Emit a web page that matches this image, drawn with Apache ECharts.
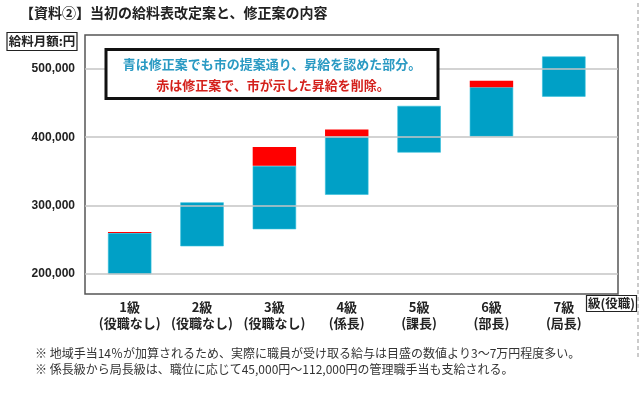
<!DOCTYPE html>
<html><head><meta charset="utf-8">
<script src="https://cdn.jsdelivr.net/npm/echarts@6/dist/echarts.min.js"></script>
<style>html,body{margin:0;padding:0;background:#fff}#c{width:640px;height:393px}</style>
</head><body><div id="c"></div>
<script>
const categories = ['1級','2級','3級','4級','5級','6級','7級'];
const roles = ['(役職なし)','(役職なし)','(役職なし)','(係長)','(課長)','(部長)','(局長)'];
// bottom of each bar (current start of grade)
const startValues = [199000, 240000, 265000, 315500, 377500, 401000, 459500];
// top of blue part (raise approved in revised plan)
const revisedTop = [259500, 304500, 358000, 401000, 446000, 473500, 518500];
// top of red part (city's original proposal)
const originalTop = [261000, 304500, 385500, 411500, 446000, 483000, 518500];
const yTicks = [200000, 300000, 400000, 500000];
const yMin = 170000, yMax = 550000;

const blueVals = revisedTop.map((v,i)=>v-startValues[i]);
const redVals = originalTop.map((v,i)=>v-revisedTop[i]);
const JP = "'Noto Sans CJK JP', sans-serif";

const chart = echarts.init(document.getElementById('c'), null, {renderer:'canvas'});
chart.setOption({
  animation:false,
  backgroundColor:'#fff',
  grid:[
    {left:85, right:22, top:35, bottom:99, show:true, borderColor:'#555', borderWidth:1.5, backgroundColor:'transparent'},
    {left:93.5, right:40, top:35, bottom:99}
  ],
  xAxis:[
    {type:'value', gridIndex:0, min:0, max:1, show:false},
    {type:'category', gridIndex:1, data:categories,
     axisLine:{show:false}, axisTick:{show:false},
     axisLabel:{interval:0, margin:5, lineHeight:16, fontFamily:JP, fontSize:13, fontWeight:'bold', color:'#222',
       formatter:(v,i)=>v+'\n'+roles[i]}}
  ],
  yAxis:[
    {type:'value', gridIndex:0, min:yMin, max:yMax,
     axisLine:{show:false}, axisTick:{show:false}, splitLine:{show:false},
     axisLabel:{customValues:yTicks, margin:10, fontFamily:"'Liberation Sans', Arial, sans-serif", fontSize:12, fontWeight:'bold', color:'#222',
       formatter:v=>v.toLocaleString('en-US')}},
    {type:'value', gridIndex:1, min:yMin, max:yMax, show:false}
  ],
  series:[
    {type:'line', xAxisIndex:0, yAxisIndex:0, data:[], silent:true,
     markLine:{symbol:'none', silent:true, label:{show:false},
       lineStyle:{color:'#c4c4c4', width:1.5, type:'solid'},
       data: yTicks.map(v=>({yAxis:v}))}},
    {type:'bar', xAxisIndex:1, yAxisIndex:1, stack:'s', barWidth:'60%', data:startValues,
     itemStyle:{color:'transparent'}, silent:true},
    {type:'bar', xAxisIndex:1, yAxisIndex:1, stack:'s', data:blueVals,
     itemStyle:{color:'#00a0c6', borderColor:'#33c0dc', borderWidth:0.6}},
    {type:'bar', xAxisIndex:1, yAxisIndex:1, stack:'s', data:redVals,
     itemStyle:{color:'#ff0000'}}
  ],
  graphic:[
    {type:'text', left:20, top:6, z:100, style:{text:'【資料②】当初の給料表改定案と、修正案の内容', font:"bold 14px "+JP, fill:'#222'}},
    {type:'rect', z:100, shape:{x:7, y:32.5, width:70, height:18}, style:{fill:'#fff', stroke:'#222', lineWidth:1.2}},
    {type:'text', z:101, x:42, y:41.5, style:{text:'給料月額:円', font:"bold 12.5px "+JP, fill:'#222', align:'center', verticalAlign:'middle'}},
    {type:'rect', z:100, shape:{x:586.5, y:295.5, width:50, height:16}, style:{fill:'#fff', stroke:'#222', lineWidth:1.2}},
    {type:'text', z:101, x:611.5, y:303.5, style:{text:'級(役職)', font:"bold 12.5px "+JP, fill:'#222', align:'center', verticalAlign:'middle'}},
    {type:'rect', z:100, shape:{x:106, y:49.5, width:332, height:49}, style:{fill:'#fff', stroke:'#111', lineWidth:3}},
    {type:'text', z:101, x:272, y:64, style:{text:'青は修正案でも市の提案通り、昇給を認めた部分。', font:"bold 13px "+JP, fill:'#2a9ac3', align:'center', verticalAlign:'middle'}},
    {type:'text', z:101, x:273, y:85, style:{text:'赤は修正案で、市が示した昇給を削除。', font:"bold 13px "+JP, fill:'#d4211c', align:'center', verticalAlign:'middle'}},
    {type:'text', z:100, x:35, y:353, style:{text:'※ 地域手当14％が加算されるため、実際に職員が受け取る給与は目盛の数値より3～7万円程度多い。', font:"12px "+JP, fill:'#333', verticalAlign:'middle'}},
    {type:'text', z:100, x:35, y:369, style:{text:'※ 係長級から局長級は、職位に応じて45,000円～112,000円の管理職手当も支給される。', font:"12px "+JP, fill:'#333', verticalAlign:'middle'}},
    {type:'line', z:100, shape:{x1:638, y1:3, x2:638, y2:358}, style:{stroke:'#bbb', lineWidth:1.5, lineDash:[4,3]}}
  ]
});
</script></body></html>
